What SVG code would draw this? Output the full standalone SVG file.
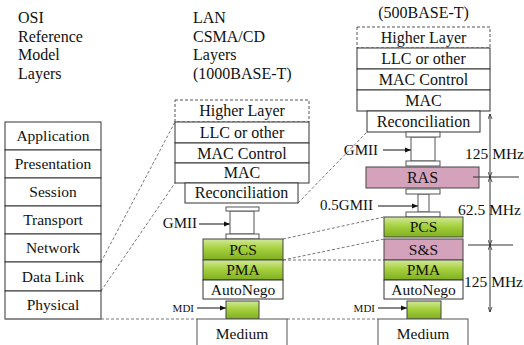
<svg xmlns="http://www.w3.org/2000/svg" width="524" height="345" viewBox="0 0 524 345">
<defs>
<linearGradient id="g" x1="0" y1="0" x2="0" y2="1">
<stop offset="0" stop-color="#d2e89a"/>
<stop offset="0.45" stop-color="#a6d13f"/>
<stop offset="1" stop-color="#7eae1f"/>
</linearGradient>
<marker id="ah" viewBox="0 0 10 10" refX="10" refY="5" markerWidth="7" markerHeight="6" orient="auto" markerUnits="userSpaceOnUse">
<path d="M0,1 L10,5 L0,9 z" fill="#111"/>
</marker>
<marker id="mh" viewBox="0 0 10 10" refX="10" refY="5" markerWidth="5" markerHeight="5" orient="auto-start-reverse" markerUnits="userSpaceOnUse">
<path d="M0,1 L10,5 L0,9" fill="none" stroke="#222" stroke-width="1.5"/>
</marker>
<style>
.box{fill:#fff;stroke:#333;stroke-width:1}
.dsh{fill:#fff;stroke:#555;stroke-width:1;stroke-dasharray:3 2}
.grn{fill:url(#g);stroke:#444;stroke-width:1}
.pnk{fill:#d4a2bb;stroke:#444;stroke-width:1}
.cap{fill:#fff;stroke:#555;stroke-width:1}
.med{fill:#fff;stroke:#555;stroke-width:1}
.conn{fill:none;stroke:#777;stroke-width:1;stroke-dasharray:3 2}
.arr{fill:none;stroke:#111;stroke-width:1}
.ms{fill:none;stroke:#333;stroke-width:1}
</style>
</defs>

<g id="header">
<text style="font-family:'Liberation Serif',serif;font-size:16px" fill="#111" x="18" y="23">OSI</text>
<text style="font-family:'Liberation Serif',serif;font-size:16px" fill="#111" x="18" y="42">Reference</text>
<text style="font-family:'Liberation Serif',serif;font-size:16px" fill="#111" x="18" y="60">Model</text>
<text style="font-family:'Liberation Serif',serif;font-size:16px" fill="#111" x="18" y="79">Layers</text>
<text style="font-family:'Liberation Serif',serif;font-size:16px" fill="#111" x="193" y="23">LAN</text>
<text style="font-family:'Liberation Serif',serif;font-size:16px" fill="#111" x="193" y="42">CSMA/CD</text>
<text style="font-family:'Liberation Serif',serif;font-size:16px" fill="#111" x="193" y="60">Layers</text>
<text style="font-family:'Liberation Serif',serif;font-size:16px" fill="#111" x="193" y="79">(1000BASE-T)</text>
<text style="font-family:'Liberation Serif',serif;font-size:16px" fill="#111" text-anchor="middle" x="423.5" y="18">(500BASE-T)</text>
</g>

<g id="connectors">
<line class="conn" x1="101" y1="262" x2="175" y2="122"/>
<line class="conn" x1="101" y1="291" x2="175" y2="183"/>
<line class="conn" x1="298" y1="203" x2="367" y2="132"/>
<line class="conn" x1="283" y1="239" x2="384" y2="217"/>
<line class="conn" x1="283" y1="260" x2="384" y2="239"/>
<line class="conn" x1="283" y1="260" x2="384" y2="260"/>
<line class="conn" x1="101" y1="319" x2="197" y2="319"/>
<line class="conn" x1="287" y1="319" x2="378" y2="319"/>
<line class="arr" x1="199" y1="224" x2="230" y2="224" marker-end="url(#ah)"/>
<line class="arr" x1="197" y1="308" x2="226" y2="308" marker-end="url(#ah)"/>
<line class="arr" x1="383" y1="150" x2="411" y2="150" marker-end="url(#ah)"/>
<line class="arr" x1="378" y1="206" x2="418" y2="206" marker-end="url(#ah)"/>
<line class="arr" x1="378" y1="308" x2="407" y2="308" marker-end="url(#ah)"/>
</g>

<g id="osi">
<g id="osi-application"><rect class="box" x="5" y="122" width="96" height="28"/><text style="font-family:'Liberation Serif',serif;font-size:15.5px" fill="#111" text-anchor="middle" x="53" y="141">Application</text></g>
<g id="osi-presentation"><rect class="box" x="5" y="150" width="96" height="28"/><text style="font-family:'Liberation Serif',serif;font-size:15.5px" fill="#111" text-anchor="middle" x="53" y="169">Presentation</text></g>
<g id="osi-session"><rect class="box" x="5" y="178" width="96" height="28"/><text style="font-family:'Liberation Serif',serif;font-size:15.5px" fill="#111" text-anchor="middle" x="53" y="197">Session</text></g>
<g id="osi-transport"><rect class="box" x="5" y="206" width="96" height="28"/><text style="font-family:'Liberation Serif',serif;font-size:15.5px" fill="#111" text-anchor="middle" x="53" y="225">Transport</text></g>
<g id="osi-network"><rect class="box" x="5" y="234" width="96" height="28"/><text style="font-family:'Liberation Serif',serif;font-size:15.5px" fill="#111" text-anchor="middle" x="53" y="253">Network</text></g>
<g id="osi-datalink"><rect class="box" x="5" y="262" width="96" height="29"/><text style="font-family:'Liberation Serif',serif;font-size:15.5px" fill="#111" text-anchor="middle" x="53" y="282">Data Link</text></g>
<g id="osi-physical"><rect class="box" x="5" y="291" width="96" height="28"/><line x1="5" y1="319" x2="101" y2="319" stroke="#888" stroke-width="1.5"/><text style="font-family:'Liberation Serif',serif;font-size:15.5px" fill="#111" text-anchor="middle" x="53" y="310">Physical</text></g>
</g>

<g id="g1000">
<g id="m-higher"><rect class="dsh" x="175" y="100" width="134" height="22"/><text style="font-family:'Liberation Serif',serif;font-size:16px" fill="#111" text-anchor="middle" x="242" y="116">Higher Layer</text></g>
<g id="m-llc"><rect class="box" x="175" y="122" width="134" height="21"/><text style="font-family:'Liberation Serif',serif;font-size:16px" fill="#111" text-anchor="middle" x="242" y="138">LLC or other</text></g>
<g id="m-macctl"><rect class="box" x="175" y="143" width="134" height="20"/><text style="font-family:'Liberation Serif',serif;font-size:16px" fill="#111" text-anchor="middle" x="242" y="159">MAC Control</text></g>
<g id="m-mac"><rect class="box" x="175" y="163" width="134" height="20"/><text style="font-family:'Liberation Serif',serif;font-size:16px" fill="#111" text-anchor="middle" x="242" y="178">MAC</text></g>
<g id="m-recon"><rect class="box" x="185" y="183" width="113" height="20"/><text style="font-family:'Liberation Serif',serif;font-size:16px" fill="#111" text-anchor="middle" x="241.5" y="198">Reconciliation</text></g>
<g id="m-gmii"><rect class="cap" x="230" y="211" width="24" height="23"/><rect class="cap" x="226" y="207" width="33" height="4"/><rect class="cap" x="226" y="234" width="33" height="5"/><text style="font-family:'Liberation Serif',serif;font-size:15px" fill="#111" text-anchor="end" x="197" y="228">GMII</text></g>
<g id="m-pcs"><rect class="grn" x="203" y="239" width="80" height="21"/><text style="font-family:'Liberation Serif',serif;font-size:15.5px" fill="#111" text-anchor="middle" x="243" y="255">PCS</text></g>
<g id="m-pma"><rect class="grn" x="203" y="260" width="80" height="20"/><text style="font-family:'Liberation Serif',serif;font-size:15.5px" fill="#111" text-anchor="middle" x="243" y="275">PMA</text></g>
<g id="m-autonego"><rect class="box" x="203" y="280" width="80" height="19"/><text style="font-family:'Liberation Serif',serif;font-size:15.5px" fill="#111" text-anchor="middle" x="243" y="295">AutoNego</text></g>
<g id="m-mdi"><rect class="grn" x="226" y="301" width="33" height="18"/><text style="font-family:'Liberation Serif',serif;font-size:11px" fill="#111" text-anchor="end" x="194" y="312">MDI</text></g>
<g id="m-medium"><rect class="med" x="197" y="319" width="90" height="32"/><text style="font-family:'Liberation Serif',serif;font-size:15.5px" fill="#111" text-anchor="middle" x="242" y="339">Medium</text></g>
</g>

<g id="g500">
<g id="r-higher"><rect class="dsh" x="357" y="27" width="133" height="21"/><text style="font-family:'Liberation Serif',serif;font-size:16px" fill="#111" text-anchor="middle" x="423.5" y="43">Higher Layer</text></g>
<g id="r-llc"><rect class="box" x="357" y="48" width="133" height="21"/><text style="font-family:'Liberation Serif',serif;font-size:16px" fill="#111" text-anchor="middle" x="423.5" y="64">LLC or other</text></g>
<g id="r-macctl"><rect class="box" x="357" y="69" width="133" height="21"/><text style="font-family:'Liberation Serif',serif;font-size:16px" fill="#111" text-anchor="middle" x="423.5" y="85">MAC Control</text></g>
<g id="r-mac"><rect class="box" x="357" y="90" width="133" height="21"/><text style="font-family:'Liberation Serif',serif;font-size:16px" fill="#111" text-anchor="middle" x="423.5" y="106">MAC</text></g>
<g id="r-recon"><rect class="box" x="367" y="111" width="113" height="21"/><text style="font-family:'Liberation Serif',serif;font-size:16px" fill="#111" text-anchor="middle" x="423.5" y="127">Reconciliation</text></g>
<g id="r-gmii"><rect class="cap" x="411" y="137" width="24" height="24"/><rect class="cap" x="406" y="132" width="34" height="5"/><rect class="cap" x="406" y="161" width="34" height="5"/><text style="font-family:'Liberation Serif',serif;font-size:15px" fill="#111" text-anchor="end" x="378" y="155">GMII</text></g>
<g id="r-ras"><rect class="pnk" x="366" y="167" width="113" height="21"/><text style="font-family:'Liberation Serif',serif;font-size:16px" fill="#111" text-anchor="middle" x="422.5" y="183">RAS</text></g>
<g id="r-05gmii"><rect class="cap" x="418" y="194" width="11" height="18"/><rect class="cap" x="406" y="189" width="34" height="5"/><rect class="cap" x="406" y="212" width="34" height="5"/><text style="font-family:'Liberation Serif',serif;font-size:15px" fill="#111" text-anchor="end" x="373" y="210">0.5GMII</text></g>
<g id="r-pcs"><rect class="grn" x="384" y="217" width="79" height="20"/><text style="font-family:'Liberation Serif',serif;font-size:15.5px" fill="#111" text-anchor="middle" x="423.5" y="232">PCS</text></g>
<g id="r-ss"><rect class="pnk" x="384" y="239" width="79" height="21"/><text style="font-family:'Liberation Serif',serif;font-size:15.5px" fill="#111" text-anchor="middle" x="423.5" y="255">S&amp;S</text></g>
<g id="r-pma"><rect class="grn" x="384" y="260" width="79" height="20"/><text style="font-family:'Liberation Serif',serif;font-size:15.5px" fill="#111" text-anchor="middle" x="423.5" y="275">PMA</text></g>
<g id="r-autonego"><rect class="box" x="384" y="280" width="79" height="19"/><text style="font-family:'Liberation Serif',serif;font-size:15.5px" fill="#111" text-anchor="middle" x="423.5" y="295">AutoNego</text></g>
<g id="r-mdi"><rect class="grn" x="407" y="301" width="34" height="18"/><text style="font-family:'Liberation Serif',serif;font-size:11px" fill="#111" text-anchor="end" x="375" y="312">MDI</text></g>
<g id="r-medium"><rect class="med" x="378" y="319" width="90" height="32"/><text style="font-family:'Liberation Serif',serif;font-size:15.5px" fill="#111" text-anchor="middle" x="423" y="339">Medium</text></g>
</g>

<g id="clock-rates">
<line class="ms" x1="473" y1="177" x2="519" y2="177"/>
<line class="ms" x1="468" y1="245" x2="513" y2="245"/>
<line class="ms" x1="490" y1="114" x2="490" y2="177" marker-start="url(#mh)" marker-end="url(#mh)"/>
<line class="ms" x1="490" y1="177" x2="490" y2="245" marker-start="url(#mh)" marker-end="url(#mh)"/>
<line class="ms" x1="490" y1="245" x2="490" y2="312" marker-start="url(#mh)" marker-end="url(#mh)"/>
<text style="font-family:'Liberation Serif',serif;font-size:15.5px" fill="#111" x="465" y="159">125 MHz</text>
<text style="font-family:'Liberation Serif',serif;font-size:15.5px" fill="#111" x="458" y="215">62.5 MHz</text>
<text style="font-family:'Liberation Serif',serif;font-size:15.5px" fill="#111" x="464" y="287">125 MHz</text>
</g>
</svg>
